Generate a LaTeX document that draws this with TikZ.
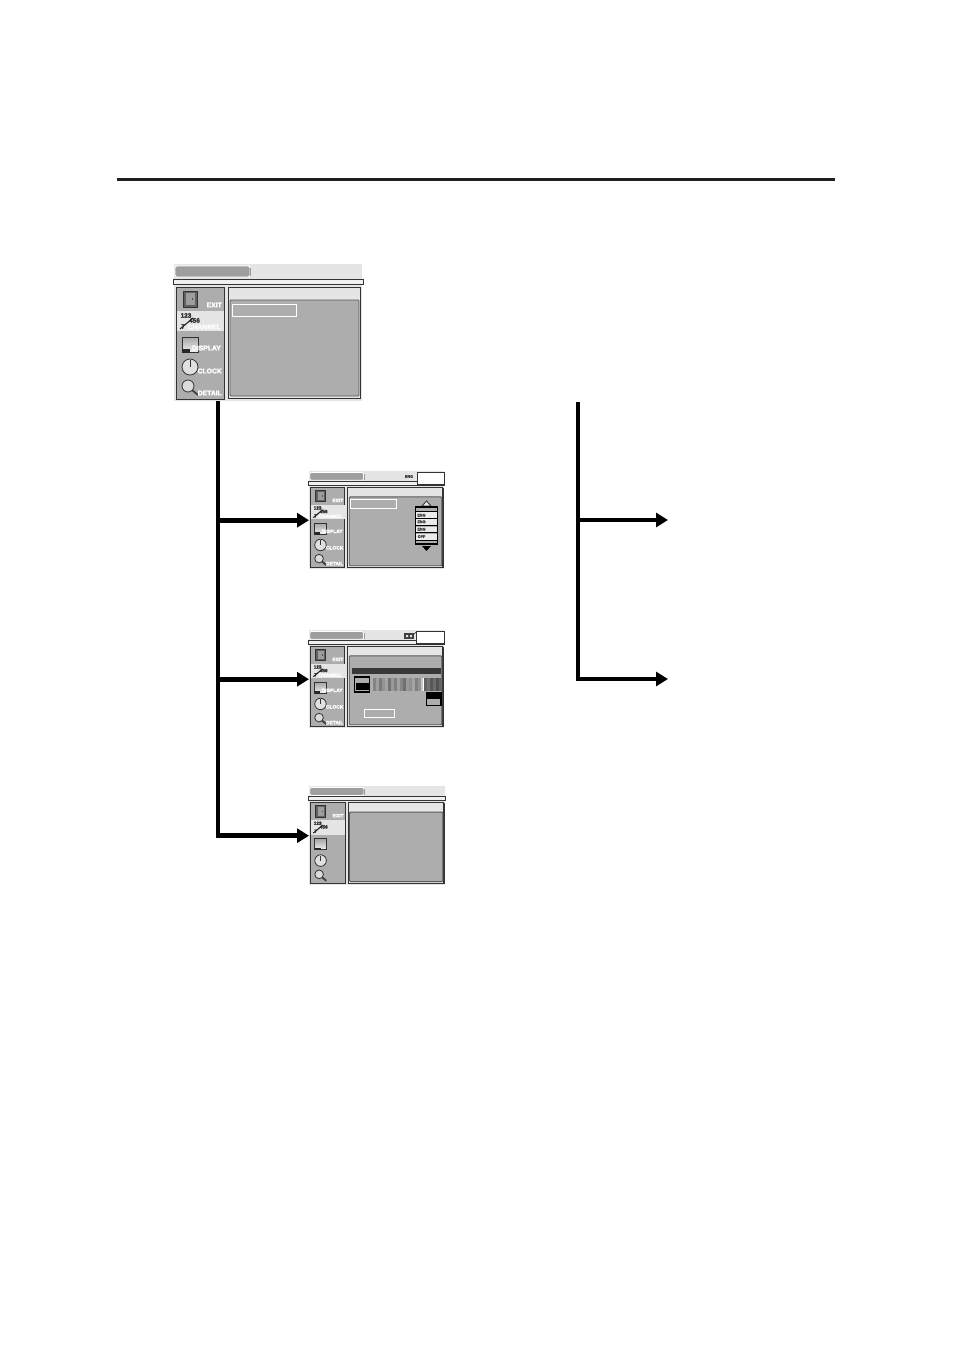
\documentclass[tikz,border=0pt]{standalone}
\usepackage{fontspec}
\setsansfont{Liberation Sans}
\newfontfamily\lblfont[FakeBold=2.6]{Liberation Sans Bold}
\usetikzlibrary{arrows.meta}

\begin{document}
\begin{tikzpicture}[
    x=1pt, y=-1pt,
    menubg/.style={fill=black!10, anchor=north west, inner sep=0pt},
    panel/.style={draw=black!80, line width=0.9pt},
    lbl/.style={font=\lblfont\fontsize{6.8}{6.8}\selectfont, text=white,
                anchor=east, inner sep=0pt},
    tiny/.style={font=\lblfont\fontsize{3.8}{3.8}\selectfont, text=black!75,
                 inner sep=0pt},
    digit/.style={font=\lblfont\fontsize{6.4}{6.4}\selectfont, text=black!80,
                  inner sep=0pt},
    icon/.style={draw=black!80, line width=0.8pt},
    selbox/.style={draw=white, line width=0.9pt},
    flow/.style={line width=4.6pt, black, -{Triangle[length=12pt, width=14pt]}},
    bar/.style={line width=4.6pt, black},
    menubase/.pic={
      \draw[fill=black!38, draw=white, line width=0.8pt, rounded corners=2pt]
        (1,2) rectangle (76,13);
      \draw[black!40, line width=0.5pt] (76.6,4) -- (76.6,12);
      \draw[panel, fill=black!6] (-1,15) rectangle (189,20);
      \draw[panel, fill=black!32] (2,23) rectangle (50,135);
      \fill[black!10] (2.5,47) rectangle (49.5,67);
      \draw[panel, fill=black!10] (54,23) rectangle (186,134);
      \draw[black!80, line width=1.4pt] (186.5,24) -- (186.5,134.5) -- (55,134.5);
      \draw[draw=black!65, fill=black!32, line width=0.9pt, rounded corners=1pt]
        (56,36) rectangle (185,132);
      %% door
      \draw[icon, fill=black!62] (9,27) rectangle (23,43);
      \fill[black!38] (12,29) rectangle (21,41);
      \fill[black!70] (18,34) rectangle (19,36);
      %% channel digits
      \node[digit] (dig) at (12,51.5) {123};
      \node[digit] (dih) at (20.5,56.5) {456};
      \node[digit] (dii) at (9,62.5) {7};
      \draw[black!85, line width=1.1pt] (6,65) -- (19,54);
      %% tv
      \draw[icon, top color=black!35, bottom color=black!6] (8,73) rectangle (24,88);
      \fill[black!85] (8,85) rectangle (16,88.5);
      %% clock
      \draw[icon, fill=black!12] (16,103) circle (8);
      \draw[black!80, line width=0.7pt] (16,103) -- (16,96);
      %% magnifier
      \draw[black!75, line width=1.8pt] (18,126) -- (24,131);
      \draw[icon, fill=black!14] (14,122) circle (6);
    },
    menulabels/.pic={
      \node[lbl] (ch) at (47,63) {CHANNEL};
      \node[lbl] (ds) at (47,84) {DISPLAY};
      \node[lbl] (cl) at (48,107) {CLOCK};
      \node[lbl] (dt) at (48,129) {DETAIL};
    },
    menuexit/.pic={
      \node[lbl] (ex) at (48,41) {EXIT};
    },
    menusel/.pic={
      \draw[selbox] (58,40) rectangle (122,52);
    },
  ]

  \useasboundingbox (0,0) rectangle (954,1350);

  %% ================================================================
  %% Heading rule
  %% ================================================================
  \coordinate (ruleL) at (117,179.5);
  \coordinate (ruleR) at (835,179.5);
  \draw[black!88, line width=3pt] (ruleL) -- (ruleR);

  %% ================================================================
  %% Menu screens
  %% ================================================================
  \node[menubg, minimum width=188pt, minimum height=137pt] (menuA) at (174,264) {};
  \node[menubg, minimum width=135pt, minimum height=98pt]  (menuB) at (309,471) {};
  \node[menubg, minimum width=135pt, minimum height=98pt]  (menuC) at (309,630) {};
  \node[menubg, minimum width=136pt, minimum height=99pt]  (menuD) at (309,786) {};

  \pic (baseA) at (menuA.north west) {menubase};
  \pic (lblsA) at (menuA.north west) {menulabels};
  \pic (exitA) at (menuA.north west) {menuexit};
  \pic (selA)  at (menuA.north west) {menusel};

  \pic[scale=0.718, transform shape] (baseB) at (menuB.north west) {menubase};
  \pic[scale=0.718, transform shape] (lblsB) at (menuB.north west) {menulabels};
  \pic[scale=0.718, transform shape] (exitB) at (menuB.north west) {menuexit};
  \pic[scale=0.718, transform shape] (selB)  at (menuB.north west) {menusel};

  \pic[scale=0.718, transform shape] (baseC) at (menuC.north west) {menubase};
  \pic[scale=0.718, transform shape] (lblsC) at (menuC.north west) {menulabels};
  \pic[scale=0.718, transform shape] (exitC) at (menuC.north west) {menuexit};

  \pic[scale=0.724, transform shape] (baseD) at (menuD.north west) {menubase};
  \pic[scale=0.724, transform shape] (exitD) at (menuD.north west) {menuexit};

  %% ================================================================
  %% Second screen: badge and list
  %% ================================================================
  \node[tiny] (badgeB) at (409,476.5) {ENG};
  \draw[panel, fill=white] (417,472) rectangle (444,484);

  \draw[icon, fill=black!10] (422,506) -- (426.5,501) -- (431,506) -- cycle;
  \draw[black, line width=1.1pt, fill=black!32] (415.5,507) rectangle (437.5,544);
  \fill[black!8] (416,512) rectangle (437,518);
  \fill[black!8] (416,519) rectangle (437,525);
  \fill[black!8] (416,526.5) rectangle (437,532);
  \fill[black!8] (416,533.5) rectangle (437,540);
  \draw[black, line width=0.7pt] (416,511.5) -- (437,511.5) (416,518.5) -- (437,518.5)
    (416,525.5) -- (437,525.5) (416,532.5) -- (437,532.5) (416,540) -- (437,540);
  \node[tiny] (rowA) at (421.5,515.2) {ENG};
  \node[tiny] (rowB) at (421.5,521.8) {ENG};
  \node[tiny] (rowC) at (421.5,529.2) {ENG};
  \node[tiny] (rowD) at (421.5,536.6) {OFF};
  \fill[black] (422,546) -- (431,546) -- (426.5,551) -- cycle;

  %% ================================================================
  %% Third screen: badge, strip and boxes
  %% ================================================================
  \fill[black!75] (404,633) rectangle (414,639);
  \fill[black!10] (406,635) rectangle (408,637) (410,635) rectangle (412,637);
  \draw[black!75, line width=0.7pt] (412,636) -- (416,632);
  \draw[panel, fill=white] (416.5,631) rectangle (444,643);

  \fill[black!78] (352,668) rectangle (441,674);
  \draw[black, line width=1.1pt, fill=black!32] (354.5,677) rectangle (369.5,692);
  \fill[black] (355.5,683) rectangle (368.5,689.5);

  \foreach \sx/\sg in {373/48,376/38,379/52,382/42,385/36,388/55,391/40,394/50,397/37,
                       400/47,403/56,406/40,409/44,412/36,415/50,418/42} {
    \fill[black!\sg] (\sx,678) rectangle ++(3,13);
  }
  \fill[black!22] (421,678) rectangle (422.5,691);
  \fill[white] (422.5,678) rectangle (423.8,691);
  \foreach \sx/\sg in {424/62,427/55,430/66,433/58,436/68,439/60} {
    \fill[black!\sg] (\sx,678) rectangle ++(3,13);
  }

  \draw[black, line width=1.1pt, fill=black!32] (426.5,692.5) rectangle (441,705.5);
  \fill[black] (426.5,692.5) rectangle (441,699);
  \draw[selbox] (364.5,709.5) rectangle (394.5,717.5);

  %% ================================================================
  %% Connectors
  %% ================================================================
  \coordinate (trunkA) at (218,401);
  \coordinate (jointB) at (trunkA |- menuB.west);
  \coordinate (jointC) at (trunkA |- menuC.west);

  \draw[bar] (trunkA) -- (jointC);
  \draw[flow] (jointB) -- (menuB.west);
  \draw[flow] (jointC) -- (menuC.west);
  \draw[flow] (trunkA) |- (menuD.west);

  \coordinate (trunkR) at (578,402);
  \coordinate (jointR) at (578,520);
  \coordinate (headR)  at (668,520);
  \coordinate (headS)  at (668,679);

  \draw[bar] (trunkR) -- (jointR);
  \draw[flow] (jointR) -- (headR);
  \draw[flow] (jointR) |- (headS);

\end{tikzpicture}
\end{document}
